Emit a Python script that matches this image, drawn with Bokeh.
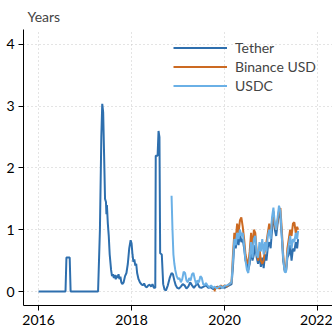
from bokeh.plotting import figure
from bokeh.models import FixedTicker, Legend, LegendItem, Range1d
from bokeh.embed import file_html
from bokeh.resources import INLINE

# ---- data (decimal years, duration in years) ----
tether_t = [2016.00, 2016.58, 2016.60, 2016.67, 2016.69, 2017.28, 2017.32, 2017.35, 2017.37, 2017.39,
            2017.41, 2017.43, 2017.45, 2017.46, 2017.47, 2017.49, 2017.51, 2017.53, 2017.56, 2017.58,
            2017.60, 2017.62, 2017.64, 2017.66, 2017.68, 2017.70, 2017.72, 2017.74, 2017.76, 2017.78,
            2017.80, 2017.83, 2017.86, 2017.89, 2017.92, 2017.95, 2017.98, 2018.00, 2018.02, 2018.04,
            2018.06, 2018.08, 2018.10, 2018.12, 2018.15, 2018.18, 2018.21, 2018.24, 2018.27, 2018.30,
            2018.33, 2018.36, 2018.39, 2018.42, 2018.45, 2018.48, 2018.51, 2018.52, 2018.56, 2018.58,
            2018.60, 2018.615, 2018.65, 2018.68, 2018.71, 2018.74, 2018.78, 2018.82, 2018.86, 2018.89,
            2018.92, 2018.95, 2018.98, 2019.02, 2019.06, 2019.10, 2019.14, 2019.18, 2019.22, 2019.26,
            2019.30, 2019.34, 2019.38, 2019.42, 2019.46, 2019.50, 2019.55, 2019.60, 2019.65, 2019.70,
            2019.75, 2019.80, 2019.85, 2019.90, 2019.95, 2020.00, 2020.05, 2020.10, 2020.15, 2020.18,
            2020.21, 2020.24, 2020.27, 2020.30, 2020.33, 2020.36, 2020.39, 2020.42, 2020.45, 2020.48,
            2020.51, 2020.54, 2020.57, 2020.60, 2020.63, 2020.66, 2020.69, 2020.72, 2020.75, 2020.78,
            2020.81, 2020.84, 2020.87, 2020.90, 2020.93, 2020.96, 2020.99, 2021.02, 2021.05, 2021.08,
            2021.11, 2021.14, 2021.17, 2021.20, 2021.23, 2021.26, 2021.29, 2021.32, 2021.35, 2021.38,
            2021.41, 2021.44, 2021.47, 2021.50, 2021.53, 2021.56, 2021.58]
tether_v = [0, 0, 0.55, 0.55, 0, 0, 1.0, 2.5, 3.04, 2.9,
            2.2, 1.5, 1.45, 1.25, 1.4, 1.1, 0.9, 0.6, 0.35, 0.25,
            0.28, 0.22, 0.27, 0.2, 0.26, 0.22, 0.28, 0.2, 0.24, 0.15,
            0.12, 0.15, 0.25, 0.3, 0.45, 0.7, 0.83, 0.78, 0.6, 0.48,
            0.52, 0.42, 0.45, 0.3, 0.2, 0.15, 0.12, 0.1, 0.13, 0.08,
            0.07, 0.1, 0.11, 0.08, 0.12, 0.06, 0.06, 2.2, 2.2, 2.6,
            2.5, 0.62, 0.6, 0.12, 0.03, 0.02, 0.1, 0.22, 0.3, 0.28,
            0.18, 0.1, 0.06, 0.05, 0.08, 0.12, 0.1, 0.05, 0.08, 0.15,
            0.1, 0.06, 0.1, 0.13, 0.07, 0.06, 0.08, 0.1, 0.06, 0.07,
            0.04, 0.05, 0.08, 0.05, 0.07, 0.06, 0.08, 0.1, 0.12, 0.4,
            0.8, 0.7, 0.9, 0.75, 0.95, 0.8, 0.85, 0.7, 0.5, 0.45,
            0.35, 0.45, 0.7, 0.5, 0.6, 0.75, 0.55, 0.45, 0.6, 0.4,
            0.55, 0.38, 0.6, 0.5, 0.72, 0.8, 0.7, 1.0, 1.3, 1.0,
            0.9, 1.1, 1.3, 1.2, 0.9, 0.5, 0.35, 0.32, 0.55, 0.6,
            0.75, 0.5, 0.7, 0.65, 0.8, 0.7, 0.85]

binance_t = [2019.78, 2019.80, 2019.84, 2019.88, 2019.92, 2019.96, 2020.00, 2020.05, 2020.10, 2020.15,
             2020.18, 2020.21, 2020.24, 2020.27, 2020.30, 2020.33, 2020.36, 2020.39, 2020.42, 2020.45,
             2020.48, 2020.51, 2020.54, 2020.57, 2020.60, 2020.63, 2020.66, 2020.69, 2020.72, 2020.75,
             2020.78, 2020.81, 2020.84, 2020.87, 2020.90, 2020.93, 2020.96, 2020.99, 2021.02, 2021.05,
             2021.08, 2021.11, 2021.14, 2021.17, 2021.20, 2021.23, 2021.26, 2021.29, 2021.32, 2021.35,
             2021.38, 2021.41, 2021.44, 2021.47, 2021.50, 2021.53, 2021.56, 2021.58]
binance_v = [0.0, 0.05, 0.08, 0.05, 0.1, 0.07, 0.1, 0.08, 0.12, 0.15,
             0.6, 0.95, 0.85, 1.1, 0.95, 1.15, 1.2, 1.05, 0.85, 0.6,
             0.5, 0.45, 0.65, 0.95, 0.7, 1.0, 0.95, 0.65, 0.5, 0.7,
             0.5, 0.45, 0.5, 0.7, 0.8, 0.95, 1.1, 0.9, 1.15, 1.25,
             1.05, 1.0, 1.15, 1.3, 1.35, 1.0, 0.6, 0.35, 0.33, 0.7,
             0.85, 1.0, 0.9, 1.1, 1.12, 0.95, 1.05, 1.0]

usdc_t = [2018.86, 2018.88, 2018.90, 2018.92, 2018.94, 2018.97, 2019.00, 2019.03, 2019.06, 2019.09,
          2019.12, 2019.15, 2019.18, 2019.21, 2019.24, 2019.27, 2019.30, 2019.33, 2019.36, 2019.39,
          2019.42, 2019.45, 2019.48, 2019.51, 2019.54, 2019.57, 2019.60, 2019.63, 2019.67, 2019.71,
          2019.75, 2019.79, 2019.83, 2019.87, 2019.91, 2019.95, 2020.00, 2020.05, 2020.10, 2020.15,
          2020.18, 2020.21, 2020.24, 2020.27, 2020.30, 2020.33, 2020.36, 2020.39, 2020.42, 2020.45,
          2020.48, 2020.51, 2020.54, 2020.57, 2020.60, 2020.63, 2020.66, 2020.69, 2020.72, 2020.75,
          2020.78, 2020.81, 2020.84, 2020.87, 2020.90, 2020.93, 2020.96, 2020.99, 2021.02, 2021.05,
          2021.08, 2021.11, 2021.14, 2021.17, 2021.20, 2021.23, 2021.26, 2021.29, 2021.32, 2021.35,
          2021.38, 2021.41, 2021.44, 2021.47, 2021.50, 2021.53, 2021.56, 2021.58]
usdc_v = [1.55, 1.0, 0.6, 0.45, 0.35, 0.25, 0.2, 0.22, 0.15, 0.2,
          0.32, 0.3, 0.18, 0.15, 0.22, 0.18, 0.28, 0.3, 0.2, 0.12,
          0.18, 0.15, 0.25, 0.22, 0.12, 0.1, 0.14, 0.1, 0.07, 0.1,
          0.06, 0.08, 0.05, 0.07, 0.09, 0.06, 0.09, 0.1, 0.12, 0.15,
          0.5, 0.85, 0.75, 0.95, 0.85, 1.0, 0.9, 0.95, 0.75, 0.5,
          0.35, 0.3, 0.55, 0.8, 0.55, 0.85, 0.9, 0.6, 0.55, 0.8,
          0.65, 0.85, 0.6, 0.8, 0.65, 0.9, 1.0, 0.85, 1.2, 1.36,
          1.1, 1.0, 1.2, 1.39, 1.3, 0.9, 0.55, 0.32, 0.31, 0.6,
          0.75, 0.9, 0.7, 0.85, 0.8, 0.95, 0.85, 0.98]

series_names = ["Tether", "Binance USD", "USDC"]
x_ticks = [2016, 2018, 2020, 2022]
y_ticks = [0, 1, 2, 3, 4]

FONT = "Lato"

p = figure(width=332, height=328, output_backend="svg", toolbar_location=None,
           x_range=Range1d(2015.677, 2022.32), y_range=Range1d(-0.226, 4.242),
           min_border_left=23, min_border_right=0, min_border_top=28, min_border_bottom=23,
           title="Years")
p.title.text_font = FONT
p.title.text_font_size = "14px"
p.title.text_font_style = "normal"
p.title.align = "left"
p.title.offset = 4
p.outline_line_color = None
p.background_fill_color = "white"

r1 = p.line(tether_t, tether_v, line_color="#2e6fae", line_width=2)
r2 = p.line(binance_t, binance_v, line_color="#cc6a22", line_width=2)
r3 = p.line(usdc_t, usdc_v, line_color="#6ab0e6", line_width=2)

p.xaxis.ticker = FixedTicker(ticks=x_ticks)
p.yaxis.ticker = FixedTicker(ticks=y_ticks)
for ax in (p.xaxis[0], p.yaxis[0]):
    ax.axis_line_color = "black"
    ax.major_tick_line_color = "black"
    ax.major_tick_in = 0
    ax.major_tick_out = 5
    ax.minor_tick_line_color = None
    ax.major_label_text_font = FONT
    ax.major_label_text_font_size = "14px"
    ax.major_label_text_color = "black"
    ax.major_label_standoff = 4

for g in (p.xgrid[0], p.ygrid[0]):
    g.grid_line_color = "#c8c8c8"
    g.grid_line_dash = "1 3"
    g.grid_line_width = 1

legend = Legend(items=[LegendItem(label=series_names[0], renderers=[r1]),
                       LegendItem(label=series_names[1], renderers=[r2]),
                       LegendItem(label=series_names[2], renderers=[r3])],
                location=(150, 210))
legend.border_line_color = None
legend.background_fill_alpha = 0
legend.glyph_width = 54
legend.glyph_height = 19
legend.label_height = 19
legend.spacing = 0
legend.padding = 0
legend.margin = 0
legend.label_standoff = 8
legend.label_text_font = FONT
legend.label_text_font_size = "14px"
p.add_layout(legend, "center")

open("out.html", "w").write(file_html(p, INLINE))
